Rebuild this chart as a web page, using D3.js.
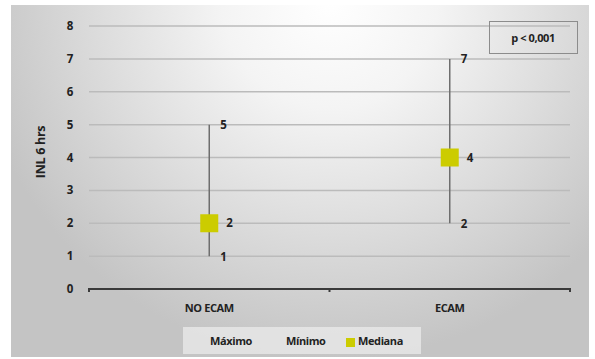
<!DOCTYPE html>
<html>
<head>
<meta charset="utf-8">
<script src="https://cdn.jsdelivr.net/npm/d3@7/dist/d3.min.js"></script>
<style>
html,body{margin:0;padding:0;background:#fff;}
svg{display:block;font-family:"Open Sans",Lato,sans-serif;font-weight:bold;}
</style>
</head>
<body>
<svg id="chart" width="595" height="359"></svg>
<script>
const categories = ["NO ECAM", "ECAM"];
const maximo = [5, 7];
const minimo = [1, 2];
const mediana = [2, 4];
const yTicks = [0, 1, 2, 3, 4, 5, 6, 7, 8];
const yTitle = "INL 6 hrs";
const pText = "p < 0,001";
const legendItems = ["Máximo", "Mínimo", "Mediana"];

const svg = d3.select("#chart");
const defs = svg.append("defs");
const grad = defs.append("radialGradient").attr("id", "bg")
  .attr("gradientUnits", "userSpaceOnUse")
  .attr("cx", 330).attr("cy", 0).attr("r", 360)
  .attr("fx", 330).attr("fy", 0);
grad.append("stop").attr("offset", "0%").attr("stop-color", "#ffffff");
grad.append("stop").attr("offset", "30%").attr("stop-color", "#f4f4f4");
grad.append("stop").attr("offset", "100%").attr("stop-color", "#c4c4c4");

svg.append("rect").attr("x", 11).attr("y", 5).attr("width", 578).attr("height", 352)
  .attr("fill", "url(#bg)");

const x = d3.scaleBand().domain(categories).range([89, 570]).padding(0);
const y = d3.scaleLinear().domain([0, 8]).range([289, 26]);

// gridlines
svg.append("g").selectAll("line").data(yTicks.filter(d => d > 0)).join("line")
  .attr("x1", 89).attr("x2", 570)
  .attr("y1", d => y(d)).attr("y2", d => y(d))
  .attr("stroke", "#bbbbbb").attr("stroke-width", 1.5);

// y tick labels
svg.append("g").selectAll("text").data(yTicks).join("text")
  .attr("x", 70).attr("y", d => y(d)).attr("dy", "0.35em")
  .attr("text-anchor", "middle").attr("font-size", 11.5).attr("fill", "#222")
  .text(d => d);

// x axis
const xAxis = d3.axisBottom(x).tickSize(0).tickFormat("");
const gx = svg.append("g").attr("transform", `translate(0,${y(0)})`).call(xAxis);
gx.select(".domain").attr("stroke", "#3a3a3a").attr("stroke-width", 2)
  .attr("d", "M89,3V0H570V3");
gx.selectAll(".tick").remove();
const bounds = [89, 329.5, 570];
svg.append("g").selectAll("line").data(bounds).join("line")
  .attr("x1", d => d).attr("x2", d => d).attr("y1", y(0)).attr("y2", y(0) + 3)
  .attr("stroke", "#3a3a3a").attr("stroke-width", 2);

svg.append("g").selectAll("text").data(categories).join("text")
  .attr("x", d => x(d) + x.bandwidth() / 2).attr("y", 312)
  .attr("text-anchor", "middle").attr("font-size", 11).attr("fill", "#222")
  .attr("letter-spacing", -0.4)
  .text(d => d);

// range lines
const cx = d => x(d) + x.bandwidth() / 2;
svg.append("g").selectAll("line").data(categories).join("line")
  .attr("x1", cx).attr("x2", cx)
  .attr("y1", (d, i) => y(maximo[i])).attr("y2", (d, i) => y(minimo[i]))
  .attr("stroke", "#6e6e6e").attr("stroke-width", 1.5);

// median squares
const sq = 18;
svg.append("g").selectAll("rect").data(categories).join("rect")
  .attr("x", d => cx(d) - sq / 2).attr("y", (d, i) => y(mediana[i]) - sq / 2)
  .attr("width", sq).attr("height", sq).attr("fill", "#cccc00");

// labels
const lab = svg.append("g").attr("font-size", 11.5).attr("fill", "#222");
lab.selectAll("text.max").data(categories).join("text").attr("class", "max")
  .attr("x", d => cx(d) + 11).attr("y", (d, i) => y(maximo[i])).attr("dy", "0.35em")
  .text((d, i) => maximo[i]);
lab.selectAll("text.min").data(categories).join("text").attr("class", "min")
  .attr("x", d => cx(d) + 11).attr("y", (d, i) => y(minimo[i]) + 1).attr("dy", "0.35em")
  .text((d, i) => minimo[i]);
lab.selectAll("text.med").data(categories).join("text").attr("class", "med")
  .attr("x", d => cx(d) + 17).attr("y", (d, i) => y(mediana[i])).attr("dy", "0.35em")
  .text((d, i) => mediana[i]);

// y title
svg.append("text").attr("transform", "translate(45,152) rotate(-90)")
  .attr("text-anchor", "middle").attr("font-size", 12.5).attr("fill", "#222")
  .attr("letter-spacing", -0.3)
  .text(yTitle);

// p box
svg.append("rect").attr("x", 489.5).attr("y", 21.5).attr("width", 88).attr("height", 32)
  .attr("fill", "none").attr("stroke", "#8c8c8c").attr("stroke-width", 1);
svg.append("text").attr("x", 533).attr("y", 38).attr("dy", "0.35em")
  .attr("text-anchor", "middle").attr("font-size", 11).attr("fill", "#222")
  .attr("letter-spacing", -0.4)
  .text(pText);

// legend
svg.append("rect").attr("x", 183).attr("y", 327).attr("width", 238).attr("height", 27)
  .attr("fill", "#e9e9e9").attr("opacity", 0.8);
const lx = [210, 286, 358];
svg.append("g").selectAll("text").data(legendItems).join("text")
  .attr("x", (d, i) => lx[i]).attr("y", 341).attr("dy", "0.35em")
  .attr("font-size", 11).attr("fill", "#222").attr("letter-spacing", -0.4)
  .text(d => d);
svg.append("rect").attr("x", 346).attr("y", 338).attr("width", 9).attr("height", 9)
  .attr("fill", "#cccc00");
</script>
</body>
</html>
